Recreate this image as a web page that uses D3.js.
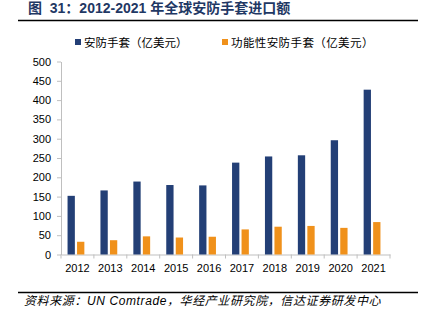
<!DOCTYPE html>
<html>
<head>
<meta charset="utf-8">
<script src="https://cdn.jsdelivr.net/npm/d3@7"></script>
<style>
  body { margin: 0; background: #fff; }
  svg { display: block; }
</style>
</head>
<body>
<svg id="chart" width="426" height="322"></svg>
<script>
// values
const YEARS = ['2012', '2013', '2014', '2015', '2016', '2017', '2018', '2019', '2020', '2021'];
const GLOVES = [152, 166, 189, 180, 179, 238, 254, 257, 296, 427];
const FUNC_GLOVES = [33, 37, 47, 44, 46, 65, 72, 74, 69, 84];
const Y_TICKS = [0, 50, 100, 150, 200, 250, 300, 350, 400, 450, 500];
const SERIES_NAMES = ['安防手套（亿美元）', '功能性安防手套（亿美元）'];
const COLORS = ['#233f76', '#f0911b'];

const FONT = '"Liberation Sans", Arial, "Noto Sans CJK SC", sans-serif';
const svg = d3.select('#chart');

// header
svg.append('text')
  .attr('x', 28).attr('y', 13)
  .attr('font-family', FONT)
  .attr('font-weight', 'bold')
  .attr('font-size', 14)
  .attr('fill', '#1f3864')
  .style('white-space', 'pre')
  .text('图  31：2012-2021 年全球安防手套进口额');
svg.append('line')
  .attr('x1', 18).attr('x2', 418)
  .attr('y1', 20.5).attr('y2', 20.5)
  .attr('stroke', '#000').attr('stroke-width', 1.5);

// plot area
const plot = { left: 61, right: 390, top: 61.5, bottom: 254.5 };
const x = d3.scaleBand().domain(YEARS).range([plot.left, plot.right]);
const y = d3.scaleLinear().domain([0, 500]).range([plot.bottom, plot.top]);

const yAxis = svg.append('g')
  .attr('transform', `translate(${plot.left},0)`)
  .call(d3.axisLeft(y).tickValues(Y_TICKS).tickSizeInner(4).tickSizeOuter(0).tickPadding(6));
const xAxis = svg.append('g')
  .attr('transform', `translate(0,${plot.bottom})`)
  .call(d3.axisBottom(x).tickSize(0).tickPadding(10));
// tick marks between categories on the x axis
xAxis.selectAll('.sep').data(d3.range(YEARS.length + 1))
  .enter().append('line')
  .attr('x1', i => plot.left + i * x.step()).attr('x2', i => plot.left + i * x.step())
  .attr('y1', 0).attr('y2', 4)
  .attr('stroke', '#bfbfbf');

[yAxis, xAxis].forEach(ax => {
  ax.select('.domain').attr('stroke', '#bfbfbf');
  ax.selectAll('.tick line').attr('stroke', '#bfbfbf');
  ax.selectAll('text')
    .attr('font-family', FONT)
    .attr('font-size', 11)
    .attr('fill', '#000');
});

// bars
const barW = 7.3, gap = 2.2;
const series = [GLOVES, FUNC_GLOVES];
series.forEach((vals, si) => {
  svg.selectAll('.bar' + si).data(vals)
    .enter().append('rect')
    .attr('class', 'bar' + si)
    .attr('x', (d, i) => x(YEARS[i]) + x.bandwidth() / 2 - barW - gap / 2 + si * (barW + gap) - 1.5)
    .attr('y', d => y(d))
    .attr('width', barW)
    .attr('height', d => y(0) - y(d))
    .attr('fill', COLORS[si]);
});

// legend
const legendX = [75, 222];
SERIES_NAMES.forEach((name, i) => {
  svg.append('rect')
    .attr('x', legendX[i]).attr('y', 39)
    .attr('width', 6).attr('height', 6)
    .attr('fill', COLORS[i]);
  svg.append('text')
    .attr('x', legendX[i] + 9).attr('y', 47)
    .attr('font-family', FONT)
    .attr('font-size', 11.5)
    .attr('letter-spacing', i === 1 ? 0.4 : 0)
    .attr('fill', '#000')
    .text(name);
});

// footer
svg.append('line')
  .attr('x1', 18).attr('x2', 418)
  .attr('y1', 292.5).attr('y2', 292.5)
  .attr('stroke', '#000').attr('stroke-width', 1.5);
svg.append('text')
  .attr('x', 24).attr('y', 305)
  .attr('font-family', FONT)
  .attr('font-style', 'italic')
  .attr('font-size', 12)
  .attr('letter-spacing', 0.6)
  .attr('fill', '#000')
  .text('资料来源：UN Comtrade，华经产业研究院，信达证券研发中心');
</script>
</body>
</html>
